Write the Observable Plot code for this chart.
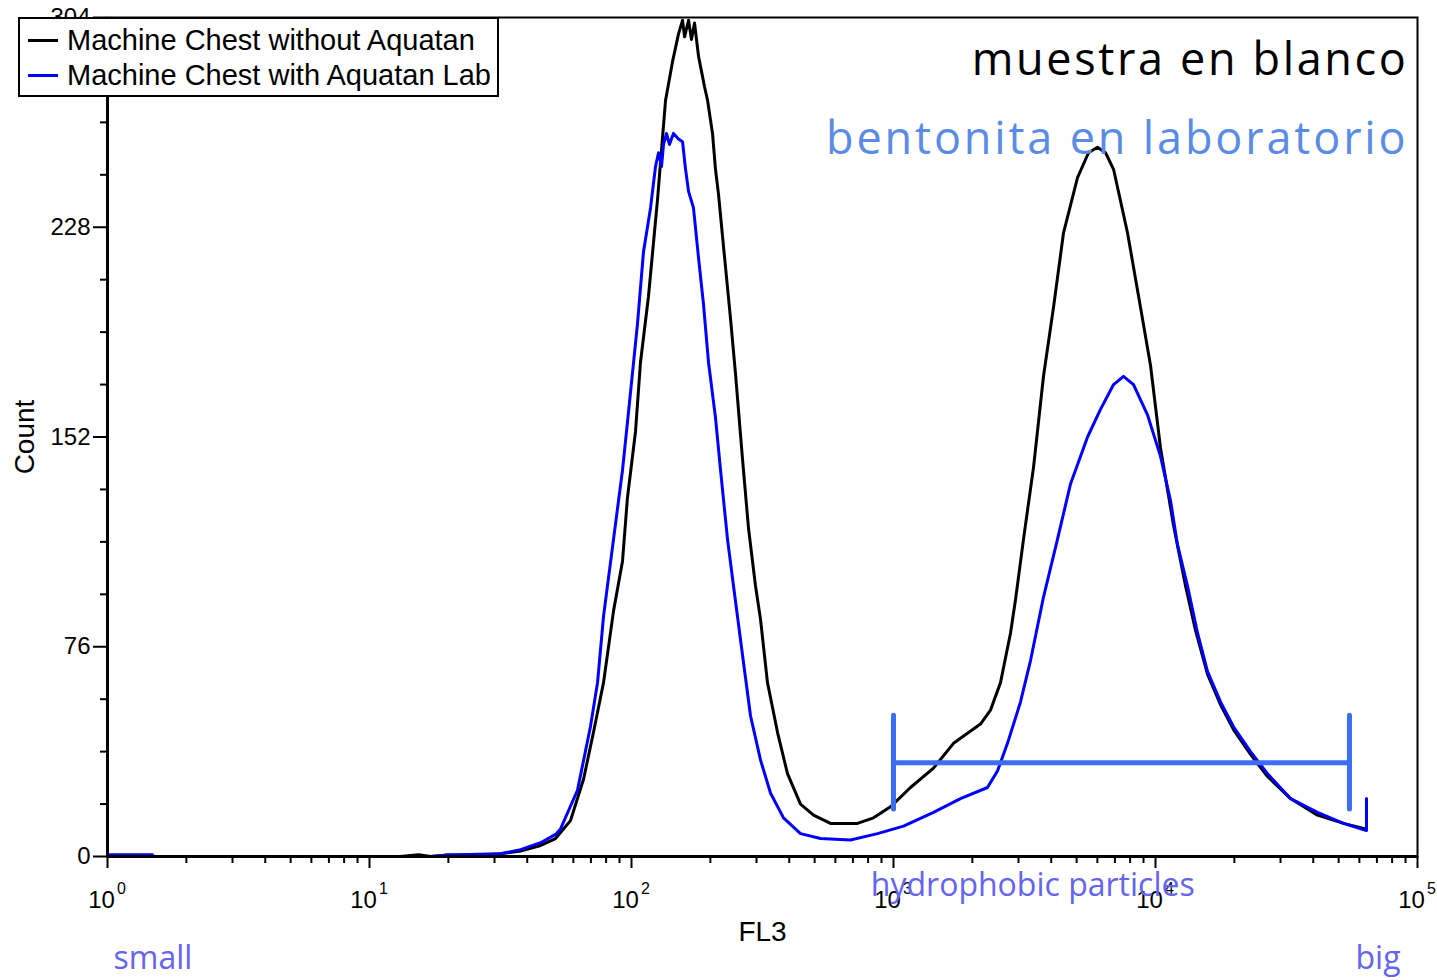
<!DOCTYPE html>
<html>
<head>
<meta charset="utf-8">
<script src="https://cdn.jsdelivr.net/npm/d3@7"></script>
<script src="https://cdn.jsdelivr.net/npm/@observablehq/plot@0.6"></script>
<style>
  html, body { margin: 0; padding: 0; background: #fff; }
  #wrap { position: relative; width: 1437px; height: 980px; }
  #legend { position: absolute; left: 18px; top: 17px; width: 477px; height: 76px;
    border: 2px solid #000; background: #fff; font-family: "Liberation Sans", Arial, sans-serif; font-size: 29px; color: #000; }
  .row { position: absolute; left: 0; height: 32px; display: flex; align-items: center; white-space: nowrap; }
  .sw { display: inline-block; width: 30px; height: 3px; margin-left: 8px; margin-right: 9px; }
</style>
</head>
<body>
<div id="wrap"><div id="chart"></div><div id="legend"></div></div>
<script>
// ---- data ----
const seriesNames = ["Machine Chest without Aquatan", "Machine Chest with Aquatan Lab"];
const seriesColors = ["#000000", "#0000ff"];

const blackFL3 = [1, 13.1, 15.4, 17.1, 19.5, 26.5, 31.6, 37.7, 45.0, 51.3, 58.5, 65.6, 71.6, 78.2, 85.4, 92.4, 96.5, 103.6, 108.2, 116.1, 125.7, 130.2, 134.9, 143.4, 151.1, 156.6, 159.4, 165.1, 169.4, 174.0, 180.2, 189.9, 195.1, 203.8, 209.2, 214.8, 224.5, 238.7, 249.4, 265.3, 279.6, 297.4, 310.7, 330.4, 360.8, 393.9, 441.6, 495.1, 574.8, 728.9, 838.9, 973.9, 1161, 1421, 1694, 2148, 2345, 2561, 2797, 2922, 3135, 3423, 3737, 4081, 4456, 5039, 5551, 6005, 6447, 6917, 7819, 8764, 9570, 10450, 11715, 13020, 14210, 15800, 17710, 19850, 23050, 26760, 32760, 41520, 52190, 63310];
const blackCount = [0, 0, 0.6, 0, 0.5, 0.5, 1, 2, 4, 6.5, 13, 28, 45, 63, 89, 107, 130, 154, 179, 203, 238, 256, 274, 288, 298, 303, 297, 303, 296, 302, 290, 279, 274, 262, 249, 240, 221, 195, 175, 144, 119, 98, 86, 63, 45, 30, 19, 15, 12, 12, 14, 18, 25, 32, 41, 48, 53, 63, 81, 93, 115, 141, 174, 199, 226, 246, 255, 257, 255, 249, 226, 199, 178, 148, 120, 98, 82, 66, 55, 46, 37, 29, 21, 15, 12, 10];

const blueFL3 = [1, 1.485, 1.5, 17.1, 19.5, 31.6, 37.7, 45.0, 51.3, 53.6, 62.2, 69.7, 74.2, 78.2, 85.4, 92.4, 97.4, 105.4, 111.1, 118.2, 123.5, 126.8, 130.2, 132.5, 136.0, 139.6, 144.6, 151.1, 156.6, 160.8, 165.1, 172.4, 180.2, 188.3, 196.8, 209.2, 218.7, 232.5, 245.1, 265.3, 284.6, 310.7, 339.2, 380.3, 441.6, 526.5, 685.3, 868.8, 1092, 1421, 1802, 2284, 2494, 2723, 3053, 3334, 3737, 4227, 4738, 5503, 6166, 6917, 7550, 8243, 9322, 10450, 11410, 12130, 13250, 14470, 15800, 17710, 19850, 23050, 26760, 32760, 41520, 52190, 63870, 63870];
const blueCount = [0.6, 0.6, 0, 0, 0.5, 1, 2.5, 5, 8, 10, 24, 47, 63, 87, 115, 140, 161, 193, 219, 235, 250, 255, 250, 258, 262, 258, 262, 260, 259, 249, 241, 235, 217, 200, 179, 159, 140, 115, 98, 73, 51, 35, 23, 14, 8.3, 6.5, 6, 8.3, 11, 16, 21, 25, 31, 41, 56, 71, 94, 115, 135, 152, 162, 171, 174, 171, 160, 145, 129, 113, 98, 81, 67, 56, 47, 38, 30, 21, 16, 12, 9.4, 21];

const gateFL3 = [1000, 55000];
const gateLevel = 34;
const gateCap = [17, 51];

const xMajorTicks = [1, 10, 100, 1000, 10000, 100000];
const xExponents = ["0", "1", "2", "3", "4", "5"];
const xMinorTicks = [2,3,4,5,6,7,8,9, 20,30,40,50,60,70,80,90, 200,300,400,500,600,700,800,900, 2000,3000,4000,5000,6000,7000,8000,9000, 20000,30000,40000,50000,60000,70000,80000,90000];
const yMajorTicks = [0, 76, 152, 228, 304];
const yMinorTicks = [19, 38, 57, 95, 114, 133, 171, 190, 209, 247, 266, 285];

const titleText = "muestra en blanco";
const subtitleText = "bentonita en laboratorio";
const gateText = "hydrophobic particles";
const xLabel = "FL3";
const yLabel = "Count";
const smallText = "small";
const bigText = "big";
const gateTextFL3 = 3400;

// ---- tables ----
const blackData = blackFL3.map((x, i) => ({x, y: blackCount[i]}));
const blueData = blueFL3.map((x, i) => ({x, y: blueCount[i]}));

const gateColor = "#3b6ef3";
const noteColor = "#6464ee";
const sans = "'Open Sans', sans-serif";

const chart = Plot.plot({
  width: 1437, height: 980,
  marginLeft: 107, marginRight: 20, marginTop: 17, marginBottom: 124,
  x: {type: "log", domain: [1, 100000]},
  y: {domain: [0, 304]},
  style: {fontFamily: "'Liberation Sans', Arial, sans-serif", fontSize: "24px", color: "#000", background: "#fff"},
  marks: [
    Plot.frame({stroke: "#000", strokeWidth: 2}),
    Plot.axisY({ticks: yMajorTicks, tickSize: 14, tickPadding: 3, strokeWidth: 2, label: null, fontSize: 24}),
    Plot.axisY({ticks: yMinorTicks, tickSize: 7, strokeWidth: 2, tickFormat: () => "", label: null}),
    Plot.axisX({ticks: xMajorTicks, tickSize: 12, strokeWidth: 2, tickFormat: () => "", label: null}),
    Plot.axisX({ticks: xMinorTicks, tickSize: 7, strokeWidth: 2, tickFormat: () => "", label: null}),
    Plot.text(xMajorTicks, {x: d => d, frameAnchor: "bottom", lineAnchor: "middle", text: () => "10", dx: -6, dy: 44, fontSize: 24}),
    Plot.text(xMajorTicks, {x: d => d, frameAnchor: "bottom", lineAnchor: "middle", text: (d, i) => xExponents[i], dx: 14, dy: 32, fontSize: 16}),
    Plot.line(blackData, {x: "x", y: "y", stroke: seriesColors[0], strokeWidth: 3, strokeLinejoin: "round"}),
    Plot.line(blueData, {x: "x", y: "y", stroke: seriesColors[1], strokeWidth: 3, strokeLinejoin: "round"}),
    Plot.ruleY([gateLevel], {x1: gateFL3[0], x2: gateFL3[1], stroke: gateColor, strokeWidth: 5}),
    Plot.ruleX(gateFL3, {x: d => d, y1: gateCap[0], y2: gateCap[1], stroke: gateColor, strokeWidth: 5, strokeLinecap: "round"}),
    Plot.ruleY([0], {stroke: "#000", strokeWidth: 3}),
    Plot.ruleX([1], {stroke: "#000", strokeWidth: 3}),
    Plot.text([titleText], {frameAnchor: "top-right", lineAnchor: "middle", text: d => d, textAnchor: "end", dx: -9, dy: 43, fontSize: 45, fill: "#000", fontFamily: sans}),
    Plot.text([subtitleText], {frameAnchor: "top-right", lineAnchor: "middle", text: d => d, textAnchor: "end", dx: -9, dy: 122, fontSize: 45, fill: "#5a8be6", fontFamily: sans}),
    Plot.text([gateTextFL3], {x: d => d, frameAnchor: "bottom", lineAnchor: "middle", text: () => gateText, dy: 29, fontSize: 32, fill: noteColor, fontFamily: sans}),
    Plot.text([smallText], {frameAnchor: "bottom-left", lineAnchor: "middle", text: d => d, textAnchor: "start", dx: 6, dy: 102, fontSize: 32, fill: noteColor, fontFamily: sans}),
    Plot.text([bigText], {frameAnchor: "bottom-right", lineAnchor: "middle", text: d => d, textAnchor: "end", dx: -17, dy: 102, fontSize: 32, fill: noteColor, fontFamily: sans}),
    Plot.text([xLabel], {frameAnchor: "bottom", lineAnchor: "middle", text: d => d, dy: 76, fontSize: 28}),
    Plot.text([yLabel], {frameAnchor: "left", lineAnchor: "middle", textAnchor: "middle", text: d => d, rotate: -90, dx: -82, fontSize: 28})
  ]
});
document.getElementById("chart").appendChild(chart);

// letter spacing for the two headline labels
d3.select(chart).selectAll("text").each(function () {
  const t = this.textContent;
  if (t === titleText) d3.select(this).style("letter-spacing", "2.65px");
  if (t === subtitleText) d3.select(this).style("letter-spacing", "2.85px");
});

// legend
const legend = document.getElementById("legend");
seriesNames.forEach((name, i) => {
  const row = document.createElement("div");
  row.className = "row";
  row.style.top = (5 + i * 35) + "px";
  const sw = document.createElement("span");
  sw.className = "sw";
  sw.style.background = seriesColors[i];
  row.appendChild(sw);
  row.appendChild(document.createTextNode(name));
  legend.appendChild(row);
});
</script>
</body>
</html>
